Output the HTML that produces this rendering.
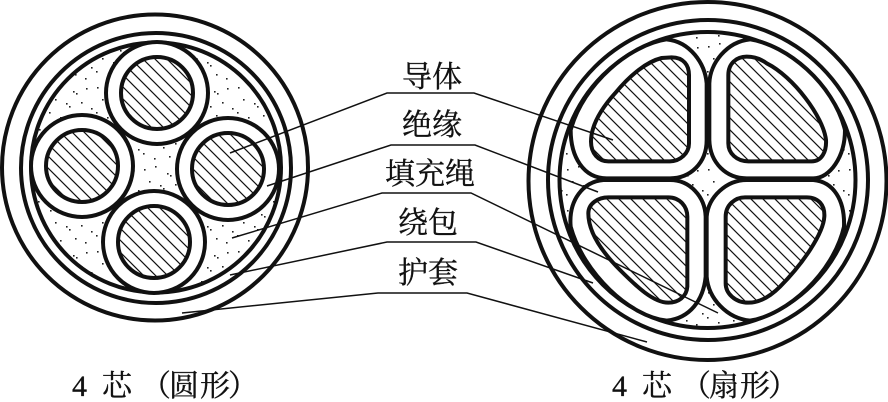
<!DOCTYPE html>
<html lang="zh"><head><meta charset="utf-8"><style>
html,body{margin:0;padding:0;background:#fff}
svg{display:block}
text{font-family:"Liberation Serif","Noto Serif CJK SC",serif;font-size:30px;fill:#111;stroke:#111;stroke-width:.35}
</style></head><body>
<svg width="888" height="402" viewBox="0 0 888 402" xmlns="http://www.w3.org/2000/svg">
<defs>
<pattern id="h" patternUnits="userSpaceOnUse" width="12" height="12">
<rect width="12" height="12" fill="#fff"/><path d="M-3 -3L15 15M-3 9L3 15M9 -3L15 3" stroke="#111" stroke-width="1.2" fill="none"/>
</pattern>
<pattern id="h3" patternUnits="userSpaceOnUse" width="36" height="36">
<rect width="36" height="36" fill="#fff"/><path d="M-9 -9L45 45M-9 27L9 45M27 -9L45 9" stroke="#111" stroke-width="3.6" fill="none"/>
</pattern>
<pattern id="d" patternUnits="userSpaceOnUse" width="47" height="41">
<rect width="47" height="41" fill="#fff"/>
<g fill="#222"><rect x="3" y="5" width="1.6" height="1.6"/><rect x="14" y="2" width="1.6" height="1.6"/><rect x="26" y="9" width="1.6" height="1.6"/><rect x="29" y="11" width="1.6" height="1.6"/><rect x="39" y="6" width="1.6" height="1.6"/><rect x="8" y="17" width="1.6" height="1.6"/><rect x="19" y="21" width="1.6" height="1.6"/><rect x="22" y="24" width="1.6" height="1.6"/><rect x="34" y="20" width="1.6" height="1.6"/><rect x="44" y="26" width="1.6" height="1.6"/><rect x="2" y="30" width="1.6" height="1.6"/><rect x="13" y="35" width="1.6" height="1.6"/><rect x="28" y="33" width="1.6" height="1.6"/><rect x="38" y="37" width="1.6" height="1.6"/></g>
</pattern>
</defs>

<g fill="none" stroke="#111" stroke-width="4">
<circle cx="155" cy="167.5" r="153"/>
<circle cx="156" cy="168" r="135"/>
<circle cx="156" cy="167.5" r="125" fill="url(#d)"/>
<g fill="#fff">
<circle cx="157" cy="93" r="51"/><circle cx="82" cy="166" r="51"/><circle cx="228" cy="169" r="51"/><circle cx="154" cy="242" r="51"/>
</g>
<g fill="url(#h)">
<circle cx="157" cy="93" r="36"/><circle cx="82" cy="166" r="36"/><circle cx="228" cy="169" r="36"/><circle cx="154" cy="242" r="36"/>
</g>
<circle cx="707.5" cy="181" r="179"/>
<circle cx="708" cy="180" r="160"/>
<circle cx="707.5" cy="180" r="148" fill="url(#d)"/>
</g>

<g transform="translate(540 0) scale(.33333)" stroke="#111" stroke-width="12" stroke-linejoin="round">
<g fill="#fff">
<path d="M380 118C270 135 130 250 92 390C92 470 130 535 200 535L390 535C450 535 500 490 500 420L500 250C495 190 450 125 380 118Z"/>
<path d="M630 118C560 125 510 190 508 250L508 420C510 490 560 535 620 535L820 535C870 535 915 470 915 390C880 250 740 135 630 118Z"/>
<path d="M190 540L390 540C450 540 495 590 497 650L497 830C490 900 450 955 380 962C270 950 130 820 92 680C85 600 130 545 190 540Z"/>
<path d="M620 540L820 540C880 545 915 600 912 680C880 820 740 945 630 962C560 955 505 895 500 830L500 650C505 590 560 540 620 540Z"/>
</g>
<g fill="url(#h3)">
<path d="M365 174L395 172C430 172 447 195 447 225L447 430C447 460 420 484 390 484L205 484C175 484 153 460 153 425C153 380 180 330 225 280C270 225 320 185 365 174Z"/>
<path d="M620 170C590 170 565 190 565 225L565 430C565 460 590 484 625 484L815 484C845 484 860 455 858 420C850 350 760 230 680 190C660 175 640 170 620 170Z"/>
<path d="M205 592L385 592C420 592 442 620 442 650L442 860C440 890 415 908 385 908C340 908 290 860 240 810C190 760 145 700 145 640C145 610 175 592 205 592Z"/>
<path d="M615 592L800 592C835 592 855 615 853 650C850 700 790 790 720 860C690 890 660 908 625 908C585 908 557 880 557 850L557 650C557 615 585 592 615 592Z"/>
</g>
</g>

<g fill="none" stroke="#111" stroke-width="1.5">
<polyline points="230,153 387,93 474,93 613,140"/>
<polyline points="267,186 391,145 475,145 598,192"/>
<polyline points="232,238 382,193 471,193 718,313"/>
<polyline points="230,275 387,242 476,242 593,283"/>
<polyline points="182,313 378,293 467,293 647,342"/>
</g>

<text x="402" y="87">导体</text>
<text x="402" y="135">绝缘</text>
<text x="385" y="184">填充绳</text>
<text x="398" y="233">绕包</text>
<text x="398" y="283">护套</text>
<text y="396" x="72 102 141 169 200 228">4芯（圆形）</text>
<text y="396" x="612 642 681 709 740 768">4芯（扇形）</text>
</svg>
</body></html>
